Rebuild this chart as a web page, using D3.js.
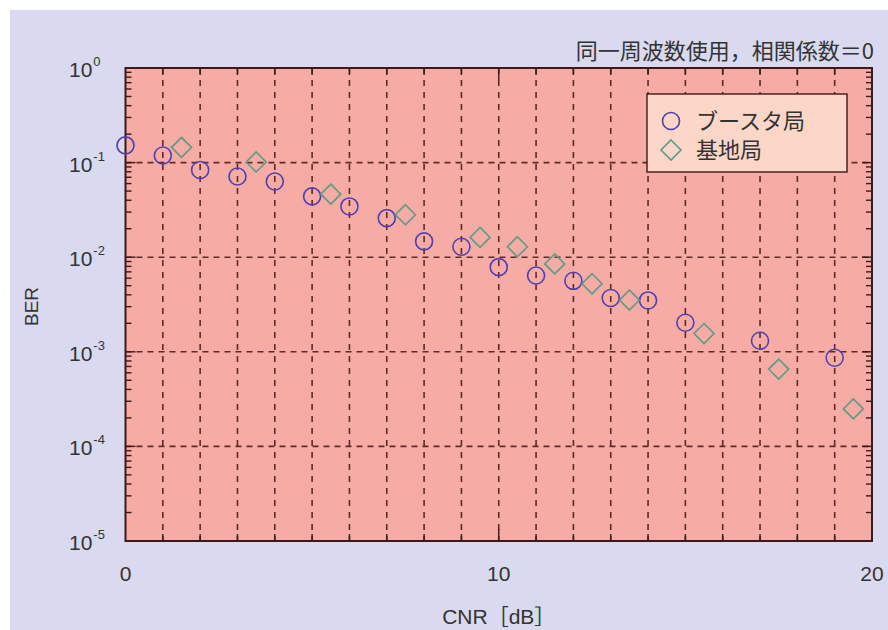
<!DOCTYPE html>
<html>
<head>
<meta charset="utf-8">
<script src="https://cdn.jsdelivr.net/npm/d3@7"></script>
<style>
  body { margin: 0; background: #fff; }
  text { font-family: "Liberation Sans", Arial, "Noto Sans CJK JP", sans-serif; fill: #333; }
  .jp { font-family: "Noto Sans CJK JP", sans-serif; }
</style>
</head>
<body>
<div class="container"></div>
<script>
// ブースタ局 (circles)
const boosterCnr = [0, 1, 2, 3, 4, 5, 6, 7, 8, 9, 10, 11, 12, 13, 14, 15, 17, 19];
const boosterBer = [0.152, 0.119, 0.0836, 0.0713, 0.0631, 0.0439, 0.0344, 0.0259, 0.0147, 0.0129,
  0.00785, 0.0064, 0.00563, 0.0037, 0.00349, 0.00203, 0.00131, 0.000865];
// 基地局 (diamonds)
const baseCnr = [1.5, 3.5, 5.5, 7.5, 9.5, 10.5, 11.5, 12.5, 13.5, 15.5, 17.5, 19.5];
const baseBer = [0.145, 0.1015, 0.0464, 0.0281, 0.0162, 0.0129, 0.0085, 0.00524, 0.00352, 0.00156, 0.000656, 0.000249];

const xTickLabels = [0, 10, 20];
const yExponents = [0, -1, -2, -3, -4, -5];
const seriesNames = ["ブースタ局", "基地局"];
const titleText = "同一周波数使用，相関係数＝0";

const width = 888, height = 630;
const margin = { top: 68, right: 16, bottom: 89, left: 125.5 };
const pw = width - margin.left - margin.right;
const ph = height - margin.top - margin.bottom;

const svg = d3.select(".container")
    .append("svg")
    .attr("width", width)
    .attr("height", height);

// lavender backdrop
svg.append("rect")
    .attr("x", 10).attr("y", 10)
    .attr("width", width - 10).attr("height", height - 10)
    .attr("fill", "#d9d9f0");

const x = d3.scaleLinear().domain([0, 20]).range([0, pw]);
const y = d3.scaleLog().domain([1e-5, 1]).range([ph, 0]);

const g = svg.append("g").attr("transform", `translate(${margin.left},${margin.top})`);

g.append("rect")
    .attr("width", pw).attr("height", ph)
    .attr("fill", "#f6aca4");

const gridColor = "#5e2a28";

// vertical dashed grid every 1 dB
g.append("g").selectAll("line")
    .data(d3.range(1, 20))
    .join("line")
    .attr("x1", d => x(d)).attr("x2", d => x(d))
    .attr("y1", 0).attr("y2", ph)
    .attr("stroke", gridColor)
    .attr("stroke-width", 1.6)
    .attr("stroke-dasharray", "6,6");

// horizontal dashed grid at decades
g.append("g").selectAll("line")
    .data(yExponents.slice(1, -1).map(e => Math.pow(10, e)))
    .join("line")
    .attr("x1", 0).attr("x2", pw)
    .attr("y1", d => y(d)).attr("y2", d => y(d))
    .attr("stroke", gridColor)
    .attr("stroke-width", 1.6)
    .attr("stroke-dasharray", "6,5");

// inner ticks on left/right (log minor) and top/bottom
const tickColor = "#3a1a1a";
const minor = [];
for (let e = -5; e < 0; e++) for (let m = 2; m <= 9; m++) minor.push(m * Math.pow(10, e));
const ticks = g.append("g").attr("stroke", tickColor).attr("stroke-width", 1.4);
[0, pw].forEach((edge, i) => {
  const dir = i === 0 ? 1 : -1;
  ticks.append("g").selectAll("line").data(minor).join("line")
      .attr("x1", edge).attr("x2", edge + dir * 6)
      .attr("y1", d => y(d)).attr("y2", d => y(d));
  ticks.append("g").selectAll("line").data(yExponents.map(e => Math.pow(10, e))).join("line")
      .attr("x1", edge).attr("x2", edge + dir * 10)
      .attr("y1", d => y(d)).attr("y2", d => y(d));
});
[0, ph].forEach((edge, i) => {
  const dir = i === 0 ? 1 : -1;
  ticks.append("g").selectAll("line").data(d3.range(1, 20)).join("line")
      .attr("x1", d => x(d)).attr("x2", d => x(d))
      .attr("y1", edge).attr("y2", d => edge + dir * (d === 10 ? 12 : 7));
});

// frame
g.append("rect")
    .attr("width", pw).attr("height", ph)
    .attr("fill", "none")
    .attr("stroke", tickColor)
    .attr("stroke-width", 2);

// y tick labels 10^n (left aligned like the original)
const yl = svg.append("g");
yExponents.forEach(e => {
  const t = yl.append("text")
      .attr("x", 69)
      .attr("y", margin.top + y(Math.pow(10, e)) + 9)
      .attr("text-anchor", "start")
      .attr("font-size", 21);
  t.append("tspan").text("10");
  t.append("tspan")
      .attr("font-size", 13)
      .attr("dx", 1)
      .attr("dy", -11)
      .text(e);
});

// x tick labels
svg.append("g").selectAll("text")
    .data(xTickLabels)
    .join("text")
    .attr("x", d => margin.left + x(d))
    .attr("y", margin.top + ph + 40)
    .attr("text-anchor", "middle")
    .attr("font-size", 21)
    .text(d => d);

// axis titles
svg.append("text")
    .attr("x", margin.left + x(10))
    .attr("y", 624)
    .attr("text-anchor", "middle")
    .attr("font-size", 21)
    .text("CNR［dB］");

svg.append("text")
    .attr("transform", `translate(38,${margin.top + ph / 2 + 2}) rotate(-90)`)
    .attr("text-anchor", "middle")
    .attr("font-size", 19)
    .text("BER");

// condition label
svg.append("text")
    .attr("class", "jp")
    .attr("x", 874)
    .attr("y", 59)
    .attr("text-anchor", "end")
    .attr("font-size", 22)
    .text(titleText);

// data
const circleColor = "#4f3fb0";
const diamondColor = "#5f9a86";
g.append("g").selectAll("circle")
    .data(boosterCnr.map((c, i) => [c, boosterBer[i]]))
    .join("circle")
    .attr("cx", d => x(d[0]))
    .attr("cy", d => y(d[1]))
    .attr("r", 8.5)
    .attr("fill", "none")
    .attr("stroke", circleColor)
    .attr("stroke-width", 1.6);

const diamond = "M0,-10L10,0L0,10L-10,0Z";
g.append("g").selectAll("path")
    .data(baseCnr.map((c, i) => [c, baseBer[i]]))
    .join("path")
    .attr("transform", d => `translate(${x(d[0])},${y(d[1])})`)
    .attr("d", diamond)
    .attr("fill", "none")
    .attr("stroke", diamondColor)
    .attr("stroke-width", 1.6);

// legend
const lg = svg.append("g").attr("transform", "translate(647,94)");
lg.append("rect")
    .attr("width", 200).attr("height", 78)
    .attr("fill", "#fcd6c6")
    .attr("stroke", tickColor)
    .attr("stroke-width", 1.4);
lg.append("circle")
    .attr("cx", 24).attr("cy", 27).attr("r", 8.5)
    .attr("fill", "none").attr("stroke", circleColor).attr("stroke-width", 1.6);
lg.append("path")
    .attr("transform", "translate(24,56)")
    .attr("d", diamond)
    .attr("fill", "none").attr("stroke", diamondColor).attr("stroke-width", 1.6);
lg.selectAll("text.lab")
    .data(seriesNames)
    .join("text")
    .attr("class", "jp lab")
    .attr("x", 49)
    .attr("y", (d, i) => 35 + i * 29)
    .attr("font-size", 22)
    .text(d => d);
</script>
</body>
</html>
